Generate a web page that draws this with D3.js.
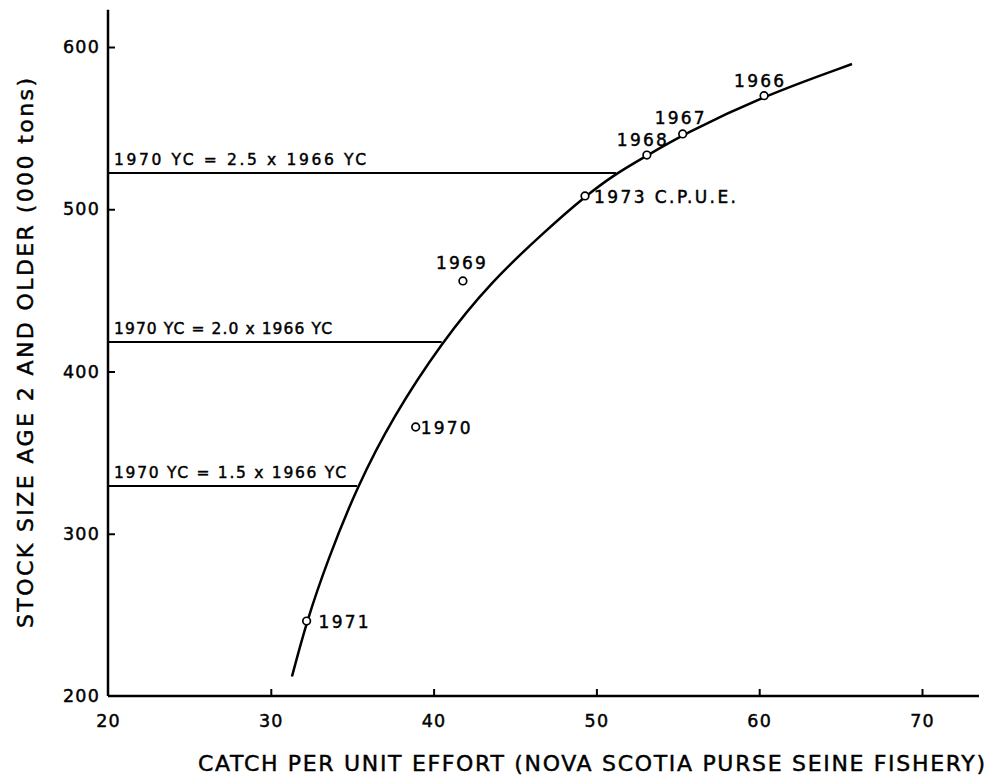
<!DOCTYPE html>
<html>
<head>
<meta charset="utf-8">
<script src="https://cdn.jsdelivr.net/npm/d3@7"></script>
<style>
  body { margin: 0; background: #fff; }
  text { font-family: "DejaVu Sans", sans-serif; fill: #000; stroke: #000; stroke-width: 0.45; }
</style>
</head>
<body>
<svg id="chart" width="994" height="779"></svg>
<script>
// tick labels
const xTicks = [20, 30, 40, 50, 60, 70];
const yTicks = [200, 300, 400, 500, 600];

// observed points (CPUE, stock size)
const pointYears = ["1966", "1967", "1968", "1973 C.P.U.E.", "1969", "1970", "1971"];
const pointX = [60.3, 55.3, 53.1, 49.3, 41.8, 38.9, 32.2];
const pointY = [570, 546.4, 533.4, 508.2, 455.8, 365.8, 246.2];

// fitted curve
const curveX = [31.3, 32.2, 33.5, 35.3, 37.5, 40.5, 43.5, 46.9, 49.3, 51.2, 53.1, 55.3, 60.3, 65.7];
const curveY = [212, 246, 284, 329, 372, 418, 455, 487, 508, 522, 533, 546, 570, 589.5];

// year-class scenarios
const scenarioLabels = ["1970 YC = 2.5 x 1966 YC", "1970 YC = 2.0 x 1966 YC", "1970 YC = 1.5 x 1966 YC"];
const scenarioStock = [522.3, 418.2, 329.4];
const scenarioCpue = [51.2, 40.5, 35.3];

const svg = d3.select("#chart");

const x = d3.scaleLinear().domain([20, 70]).range([108, 922]);
const y = d3.scaleLinear().domain([200, 600]).range([696, 47]);
const xEnd = 73.5, yEnd = 623;

// axes
const xAxis = d3.axisBottom(x).tickValues(xTicks).tickSize(-7).tickPadding(19);
const yAxis = d3.axisLeft(y).tickValues(yTicks).tickSize(-7).tickPadding(8);

const gx = svg.append("g").attr("transform", `translate(0,${y(200)})`).call(xAxis);
const gy = svg.append("g").attr("transform", `translate(${x(20)},0)`).call(yAxis);
[gx, gy].forEach(g => {
  g.select(".domain").remove();
  g.selectAll(".tick line").attr("stroke", "#000").attr("stroke-width", 2);
  g.selectAll(".tick text").attr("font-size", 17.5).attr("letter-spacing", 1.2)
    .attr("font-family", "DejaVu Sans, sans-serif").attr("fill", "#000");
});
// hide the 200 / 20 tick marks at the corner
gx.selectAll(".tick line").filter(d => d === 20).remove();
gy.selectAll(".tick line").filter(d => d === 200).remove();

svg.append("line")
  .attr("x1", x(20)).attr("x2", x(xEnd)).attr("y1", y(200)).attr("y2", y(200))
  .attr("stroke", "#000").attr("stroke-width", 2.5);
svg.append("line")
  .attr("x1", x(20)).attr("x2", x(20)).attr("y1", y(200)).attr("y2", y(yEnd))
  .attr("stroke", "#000").attr("stroke-width", 2.5);

// axis titles
svg.append("text")
  .attr("x", 198).attr("y", 771)
  .attr("font-size", 22)
  .attr("textLength", 787).attr("lengthAdjust", "spacing")
  .text("CATCH PER UNIT EFFORT (NOVA SCOTIA PURSE SEINE FISHERY)");

svg.append("text")
  .attr("transform", "translate(33,628) rotate(-90)")
  .attr("font-size", 22)
  .attr("textLength", 550).attr("lengthAdjust", "spacing")
  .text("STOCK SIZE AGE 2 AND OLDER (000 tons)");

// scenario lines
const scen = scenarioLabels.map((l, i) => ({ label: l, s: scenarioStock[i], c: scenarioCpue[i] }));
svg.selectAll(".scen").data(scen).enter().append("line")
  .attr("x1", x(20)).attr("x2", d => x(d.c))
  .attr("y1", d => y(d.s)).attr("y2", d => y(d.s))
  .attr("stroke", "#000").attr("stroke-width", 2);
const scenWidths = [252, 218, 232];
svg.selectAll(".scenlab").data(scen).enter().append("text")
  .attr("x", x(20) + 6).attr("y", d => y(d.s) - 8)
  .attr("font-size", 15.5)
  .attr("textLength", (d, i) => scenWidths[i]).attr("lengthAdjust", "spacing")
  .text(d => d.label);

// fitted curve
const line = d3.line().x(d => x(d[0])).y(d => y(d[1])).curve(d3.curveBasis);
const curvePts = curveX.map((v, i) => [v, curveY[i]]);
// repeat the end points so the basis spline reaches them
svg.append("path")
  .datum([curvePts[0], ...curvePts, curvePts[curvePts.length - 1]])
  .attr("d", line)
  .attr("fill", "none").attr("stroke", "#000").attr("stroke-width", 2.5);

// points
const pts = pointYears.map((yr, i) => ({ yr, cx: pointX[i], cy: pointY[i] }));
svg.selectAll(".pt").data(pts).enter().append("circle")
  .attr("cx", d => x(d.cx)).attr("cy", d => y(d.cy)).attr("r", 3.8)
  .attr("fill", "#fff").attr("stroke", "#000").attr("stroke-width", 1.7);

// point labels: [dx, dy, anchor]
const labelPos = {
  "1966": [-5, -9, "middle"],
  "1967": [-3, -10, "middle"],
  "1968": [-5, -9, "middle"],
  "1973 C.P.U.E.": [9, 7, "start"],
  "1969": [-2, -12, "middle"],
  "1970": [5, 7, "start"],
  "1971": [12, 7, "start"]
};
svg.selectAll(".ptlab").data(pts).enter().append("text")
  .attr("x", d => x(d.cx) + labelPos[d.yr][0])
  .attr("y", d => y(d.cy) + labelPos[d.yr][1])
  .attr("text-anchor", d => labelPos[d.yr][2])
  .attr("font-size", 17)
  .attr("textLength", d => d.yr.length > 4 ? 142 : 50)
  .attr("lengthAdjust", "spacing")
  .text(d => d.yr);
</script>
</body>
</html>
